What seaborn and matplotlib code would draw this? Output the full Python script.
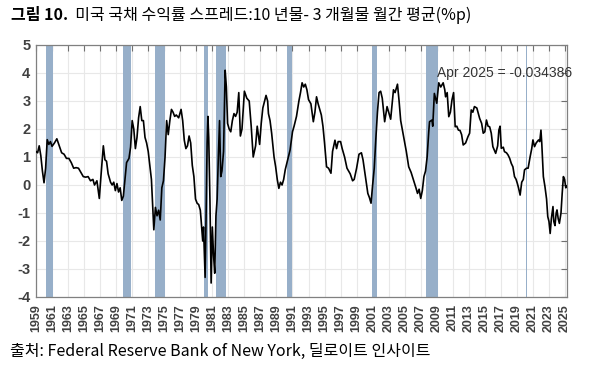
import matplotlib
matplotlib.use("Agg")
import matplotlib.pyplot as plt
import seaborn as sns
import pandas as pd

# ---- data ----
years = [
    1959.0, 1959.2, 1959.4, 1959.6, 1959.8, 1960.0, 1960.2, 1960.4, 1960.6, 1960.8,
    1961.0, 1961.3, 1961.6, 1961.9, 1962.2, 1962.5, 1962.8, 1963.1, 1963.4, 1963.7,
    1964.0, 1964.3, 1964.6, 1964.9, 1965.2, 1965.5, 1965.8, 1966.1, 1966.3, 1966.6,
    1966.9, 1967.1, 1967.4, 1967.6, 1967.8, 1968.0, 1968.3, 1968.5, 1968.7, 1968.9,
    1969.1, 1969.3, 1969.5, 1969.7, 1969.9, 1970.1, 1970.3, 1970.6, 1970.8, 1971.0,
    1971.2, 1971.4, 1971.6, 1971.8, 1972.0, 1972.2, 1972.4, 1972.6, 1972.8, 1973.0,
    1973.2, 1973.4, 1973.6, 1973.7, 1973.9, 1974.1, 1974.3, 1974.5, 1974.7, 1974.9,
    1975.1, 1975.3, 1975.5, 1975.7, 1975.9, 1976.1, 1976.3, 1976.5, 1976.8, 1977.1,
    1977.3, 1977.5, 1977.7, 1977.9, 1978.1, 1978.3, 1978.5, 1978.7, 1978.9, 1979.1,
    1979.3, 1979.5, 1979.6, 1979.8, 1979.9, 1980.1, 1980.2, 1980.35, 1980.45, 1980.55,
    1980.7, 1980.85, 1981.0, 1981.15, 1981.3, 1981.45, 1981.6, 1981.75, 1981.9, 1982.05,
    1982.2, 1982.4, 1982.6, 1982.75, 1982.9, 1983.1, 1983.3, 1983.5, 1983.7, 1983.9,
    1984.1, 1984.3, 1984.5, 1984.7, 1985.0, 1985.3, 1985.6, 1985.85, 1986.1, 1986.4,
    1986.6, 1986.9, 1987.1, 1987.3, 1987.7, 1987.9, 1988.0, 1988.2, 1988.4, 1988.7,
    1988.9, 1989.1, 1989.3, 1989.5, 1989.7, 1989.9, 1990.1, 1990.4, 1990.7, 1991.0,
    1991.2, 1991.5, 1991.8, 1992.0, 1992.2, 1992.4, 1992.6, 1992.8, 1993.0, 1993.3,
    1993.6, 1993.8, 1994.0, 1994.2, 1994.4, 1994.6, 1994.8, 1995.0, 1995.25, 1995.5,
    1995.8, 1996.0, 1996.3, 1996.5, 1996.7, 1997.0, 1997.2, 1997.5, 1997.8, 1998.0,
    1998.2, 1998.5, 1998.7, 1999.0, 1999.3, 1999.6, 1999.8, 2000.1, 2000.4, 2000.6,
    2000.8, 2001.0, 2001.2, 2001.4, 2001.6, 2001.8, 2002.0, 2002.2, 2002.5, 2002.8,
    2003.0, 2003.25, 2003.6, 2003.8, 2004.1, 2004.3, 2004.5, 2004.9, 2005.2, 2005.5,
    2005.8, 2006.1, 2006.4, 2006.6, 2006.8, 2007.0, 2007.2, 2007.4, 2007.6, 2007.8,
    2008.0, 2008.1, 2008.4, 2008.5, 2008.7, 2009.0, 2009.25, 2009.5, 2009.8, 2010.0,
    2010.1, 2010.3, 2010.5, 2010.7, 2010.9, 2011.1, 2011.3, 2011.5, 2011.7, 2011.9,
    2012.1, 2012.3, 2012.6, 2012.9, 2013.1, 2013.3, 2013.5, 2013.7, 2014.0, 2014.35,
    2014.6, 2014.8, 2015.0, 2015.2, 2015.4, 2015.6, 2015.8, 2016.0, 2016.35, 2016.6,
    2016.75, 2016.9, 2017.05, 2017.3, 2017.45, 2017.7, 2017.9, 2018.1, 2018.3, 2018.5,
    2018.7, 2018.9, 2019.05, 2019.2, 2019.4, 2019.6, 2019.8, 2019.95, 2020.2, 2020.4,
    2020.65, 2020.85, 2021.0, 2021.2, 2021.4, 2021.7, 2021.85, 2022.0, 2022.1, 2022.3,
    2022.5, 2022.7, 2022.85, 2023.0, 2023.15, 2023.3, 2023.5, 2023.6, 2023.75, 2023.9,
    2024.0, 2024.15, 2024.3, 2024.5, 2024.65, 2024.8, 2024.95, 2025.1, 2025.25,
]
spread = [
    1.20, 1.15, 1.40, 1.05, 0.50, 0.08, 0.60, 1.62, 1.45, 1.55,
    1.38, 1.50, 1.65, 1.40, 1.15, 1.10, 0.95, 0.95, 0.80, 0.60,
    0.62, 0.60, 0.45, 0.30, 0.28, 0.30, 0.15, 0.20, 0.00, 0.15,
    -0.48, 0.30, 1.40, 0.90, 0.85, 0.40, 0.10, 0.00, 0.10, -0.20,
    0.05, -0.25, -0.10, -0.55, -0.40, 0.20, 0.80, 0.95, 1.35, 2.30,
    2.00, 1.30, 1.70, 2.40, 2.80, 2.30, 2.30, 1.70, 1.50, 1.20,
    0.70, 0.20, -1.00, -1.60, -0.80, -1.10, -0.90, -1.25, -0.10, 0.15,
    1.00, 2.30, 1.80, 2.30, 2.70, 2.60, 2.45, 2.50, 2.40, 2.70,
    2.30, 1.60, 1.30, 1.40, 1.75, 1.50, 0.70, 0.30, -0.50, -0.65,
    -0.70, -0.90, -1.25, -2.00, -1.50, -3.30, -1.50, 1.50, 2.45, 1.70,
    -0.50, -3.50, -1.50, -2.50, -3.15, -1.10, -0.50, 1.00, 2.30, 0.30,
    0.50, 1.20, 4.10, 3.50, 2.20, 2.00, 1.90, 2.30, 2.55, 2.45,
    2.60, 3.30, 1.75, 2.00, 3.35, 3.10, 3.00, 2.10, 1.00, 1.40,
    2.10, 1.45, 2.20, 2.75, 3.20, 3.00, 2.55, 2.30, 1.85, 1.00,
    0.65, 0.20, -0.12, 0.10, 0.00, 0.20, 0.55, 0.90, 1.25, 1.90,
    2.10, 2.45, 3.00, 3.30, 3.65, 3.50, 3.60, 3.40, 3.05, 2.90,
    2.26, 2.60, 3.15, 2.90, 2.70, 2.50, 2.10, 1.50, 0.65, 0.60,
    0.42, 1.20, 1.60, 1.30, 1.55, 1.55, 1.30, 1.00, 0.60, 0.50,
    0.40, 0.15, 0.20, 0.60, 1.10, 1.15, 0.90, 0.30, -0.30, -0.45,
    -0.65, 0.00, 0.60, 1.65, 2.60, 3.30, 3.35, 3.10, 2.26, 2.80,
    2.60, 2.35, 3.40, 3.30, 3.60, 3.00, 2.30, 1.67, 1.20, 0.65,
    0.45, 0.18, -0.10, -0.30, -0.15, -0.48, -0.20, 0.30, 0.50, 1.00,
    1.90, 2.26, 2.32, 2.10, 3.27, 2.92, 3.65, 3.50, 3.65, 3.40,
    3.15, 3.30, 2.44, 2.60, 3.04, 3.30, 2.08, 2.10, 1.96, 1.95,
    1.80, 1.43, 1.50, 1.73, 1.85, 2.68, 2.60, 2.80, 2.75, 2.38,
    2.20, 1.85, 1.90, 2.32, 2.10, 2.08, 1.85, 1.37, 1.13, 1.40,
    1.96, 2.10, 1.31, 1.35, 1.19, 1.15, 1.07, 0.95, 0.77, 0.65,
    0.30, 0.20, 0.06, -0.10, -0.36, 0.10, 0.20, 0.54, 0.60, 0.60,
    1.01, 1.30, 1.61, 1.37, 1.50, 1.61, 1.55, 1.96, 1.50, 0.30,
    -0.06, -0.50, -1.13, -1.30, -1.73, -1.20, -0.77, -1.30, -1.45, -1.00,
    -0.89, -1.20, -1.37, -1.00, -0.30, 0.30, 0.20, -0.10, -0.03,
]
rec_start = [1960.3, 1969.9, 1973.8, 1979.95, 1981.45, 1990.3, 2000.9, 2007.7, 2020.08]
rec_end   = [1961.15, 1970.8, 1975.05, 1980.4, 1982.7, 1991.0, 2001.6, 2009.1, 2020.2]
x_ticks = list(range(1959, 2026, 2))
y_ticks = [5, 4, 3, 2, 1, 0, -1, -2, -3, -4]
title_bold = "그림 10."
title_rest = "  미국 국채 수익률 스프레드:10 년물- 3 개월물 월간 평균(%p)"
source = "출처: Federal Reserve Bank of New York, 딜로이트 인사이트"
annot = "Apr 2025 = -0.034386"

df = pd.DataFrame({"year": years, "spread": spread})

sns.set_style("white")
plt.rcParams["font.family"] = ["Liberation Sans", "Noto Sans CJK KR", "DejaVu Sans"]

fig = plt.figure(figsize=(5.93, 3.67), dpi=100)
ax = fig.add_axes([36 / 593, 70 / 367, 531 / 593, 252 / 367])

for s, e in zip(rec_start, rec_end):
    ax.axvspan(s, e, color="#97afc9", lw=0, zorder=1)

sns.lineplot(data=df, x="year", y="spread", ax=ax, color="black", lw=1.2, zorder=3)

ax.set_xlim(1959, 2025.25)
ax.set_ylim(-4, 5)
ax.set_xticks(x_ticks)
ax.set_yticks(y_ticks)
ax.set_xticklabels([str(t) for t in x_ticks], rotation=90, fontsize=9,
                   color="#404040", fontweight="bold")
ax.set_yticklabels([str(t) for t in y_ticks], fontsize=10.5, color="#404040",
                   fontweight="bold")
ax.grid(True, color="#e8e8e8", lw=0.8, zorder=0)
ax.set_axisbelow(True)
ax.tick_params(direction="in", length=4, width=0.8, color="#707070",
               top=True, right=True, labeltop=False, labelright=False)
ax.tick_params(axis="x", pad=5)
ax.tick_params(axis="y", pad=4)
for sp in ax.spines.values():
    sp.set_color("#808080")
    sp.set_linewidth(0.9)
ax.set_xlabel("")
ax.set_ylabel("")

ax.text(2009.0, 4.0, annot, fontsize=10, color="#333333", va="center", ha="left", zorder=4)

kr = ["Noto Sans CJK KR", "Liberation Sans"]
t1 = fig.text(11 / 593, 1 - 15 / 367, title_bold, fontsize=11.5, fontweight="bold",
              family=kr, va="center", ha="left", color="black")
fig.canvas.draw()
bb = t1.get_window_extent()
fig.text(bb.x1 / 593, 1 - 15 / 367, title_rest, fontsize=11.5, family=kr,
         va="center", ha="left", color="black")
fig.text(10 / 593, 1 - 351 / 367, source, fontsize=11.5, family=kr,
         va="center", ha="left", color="black")

fig.savefig("out.png", dpi=100)
